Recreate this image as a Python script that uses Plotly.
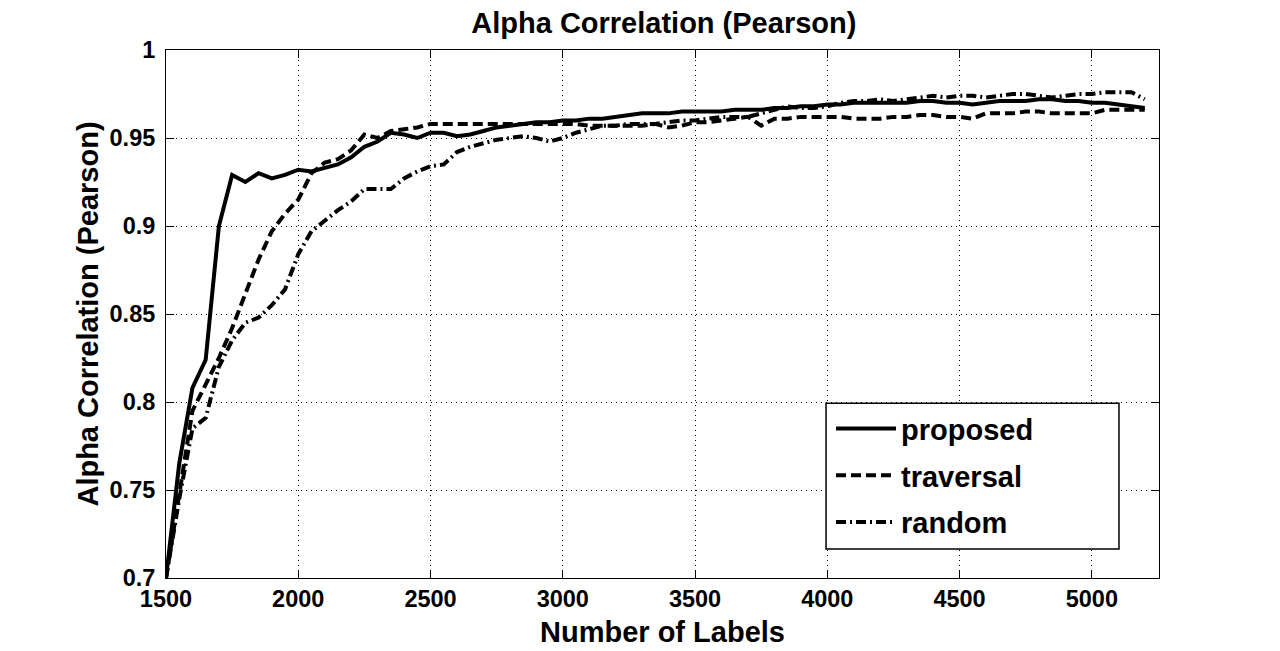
import plotly.graph_objects as go

x_labels = list(range(1500, 5201, 50))

proposed = [0.700, 0.765, 0.808, 0.824, 0.900, 0.929, 0.925, 0.930, 0.927, 0.929,
            0.932, 0.931, 0.933, 0.935, 0.939, 0.945, 0.948, 0.953, 0.952, 0.950,
            0.953, 0.953, 0.951, 0.952, 0.954, 0.956, 0.957, 0.958, 0.959, 0.959,
            0.960, 0.960, 0.961, 0.961, 0.962, 0.963, 0.964, 0.964, 0.964, 0.965,
            0.965, 0.965, 0.965, 0.966, 0.966, 0.966, 0.967, 0.967, 0.968, 0.968,
            0.969, 0.969, 0.970, 0.970, 0.970, 0.970, 0.970, 0.971, 0.971, 0.970,
            0.970, 0.969, 0.970, 0.971, 0.971, 0.971, 0.972, 0.972, 0.971, 0.971,
            0.970, 0.970, 0.969, 0.968, 0.967]

traversal = [0.700, 0.748, 0.795, 0.810, 0.825, 0.842, 0.862, 0.881, 0.897, 0.907,
             0.915, 0.930, 0.936, 0.938, 0.943, 0.952, 0.950, 0.954, 0.955, 0.956,
             0.958, 0.958, 0.958, 0.958, 0.958, 0.958, 0.958, 0.958, 0.958, 0.958,
             0.958, 0.958, 0.957, 0.957, 0.957, 0.957, 0.957, 0.958, 0.956, 0.957,
             0.959, 0.959, 0.960, 0.961, 0.962, 0.957, 0.961, 0.961, 0.962, 0.962,
             0.962, 0.962, 0.961, 0.961, 0.961, 0.962, 0.962, 0.963, 0.963, 0.962,
             0.962, 0.961, 0.964, 0.964, 0.964, 0.965, 0.965, 0.964, 0.964, 0.964,
             0.964, 0.966, 0.966, 0.966, 0.966]

random_ = [0.700, 0.745, 0.785, 0.791, 0.820, 0.835, 0.845, 0.848, 0.855, 0.864,
           0.884, 0.897, 0.903, 0.909, 0.914, 0.921, 0.921, 0.921, 0.927, 0.931,
           0.934, 0.935, 0.942, 0.945, 0.947, 0.949, 0.950, 0.951, 0.950, 0.948,
           0.950, 0.953, 0.955, 0.957, 0.957, 0.958, 0.958, 0.958, 0.959, 0.960,
           0.960, 0.961, 0.962, 0.962, 0.962, 0.964, 0.966, 0.968, 0.967, 0.967,
           0.968, 0.970, 0.971, 0.971, 0.972, 0.971, 0.972, 0.973, 0.974, 0.973,
           0.974, 0.974, 0.973, 0.974, 0.975, 0.975, 0.974, 0.973, 0.974, 0.975,
           0.975, 0.976, 0.976, 0.976, 0.972]

x_ticks = [1500, 2000, 2500, 3000, 3500, 4000, 4500, 5000]
y_ticks = [0.7, 0.75, 0.8, 0.85, 0.9, 0.95, 1.0]
y_tick_text = ["0.7", "0.75", "0.8", "0.85", "0.9", "0.95", "1"]

FONT = "Liberation Sans"

fig = go.Figure()
series = [
    ("proposed", proposed, "solid"),
    ("traversal", traversal, "10px,5px"),
    ("random", random_, "10px,4px,2px,4px"),
]
for i, (name, vals, dash) in enumerate(series):
    fig.add_trace(go.Scatter(
        x=x_labels, y=vals, mode="lines", name=name,
        legendgroup=f"g{i}",
        line=dict(color="black", width=4, dash=dash),
    ))

axis_common = dict(
    showline=True, linecolor="black", linewidth=1, mirror="ticks",
    ticks="inside", ticklen=8, tickcolor="black", tickwidth=1,
    showgrid=True, gridcolor="black", gridwidth=1, griddash="1px,4px",
    zeroline=False, automargin=False,
    tickfont=dict(family=FONT, size=23.5, color="black", weight="bold"),
)

# legend frame (MATLAB-style box wider than its entries)
fig.add_shape(type="rect", xref="paper", yref="paper",
              x0=0.6647, x1=0.9597, y0=0.0549, y1=0.331,
              line=dict(color="black", width=1.5), fillcolor="white", layer="above")

fig.update_layout(
    width=1272, height=643,
    margin=dict(l=158, r=121, t=42, b=73),
    paper_bgcolor="white", plot_bgcolor="white",
    title=dict(text="Alpha Correlation (Pearson)", x=0.5156, xanchor="center",
               y=0.977, yanchor="middle",
               font=dict(family=FONT, size=29, color="black", weight="bold")),
    xaxis=dict(range=[1500, 5254], tickvals=x_ticks,
               title=dict(text="Number of Labels", standoff=10,
                          font=dict(family=FONT, size=29, color="black", weight="bold")),
               **axis_common),
    yaxis=dict(range=[0.7, 1.0], tickvals=y_ticks, ticktext=y_tick_text,
               ticklabelstandoff=5,
               title=dict(text="Alpha Correlation (Pearson)", standoff=2,
                          font=dict(family=FONT, size=29, color="black", weight="bold")),
               **axis_common),
    legend=dict(x=0.6697, y=0.331, xanchor="left", yanchor="top",
                bgcolor="rgba(0,0,0,0)", borderwidth=0,
                traceorder="grouped", tracegroupgap=6,
                font=dict(family=FONT, size=29, color="black", weight="bold"),
                itemwidth=60),
    showlegend=True,
)

fig.write_html("out.html")
